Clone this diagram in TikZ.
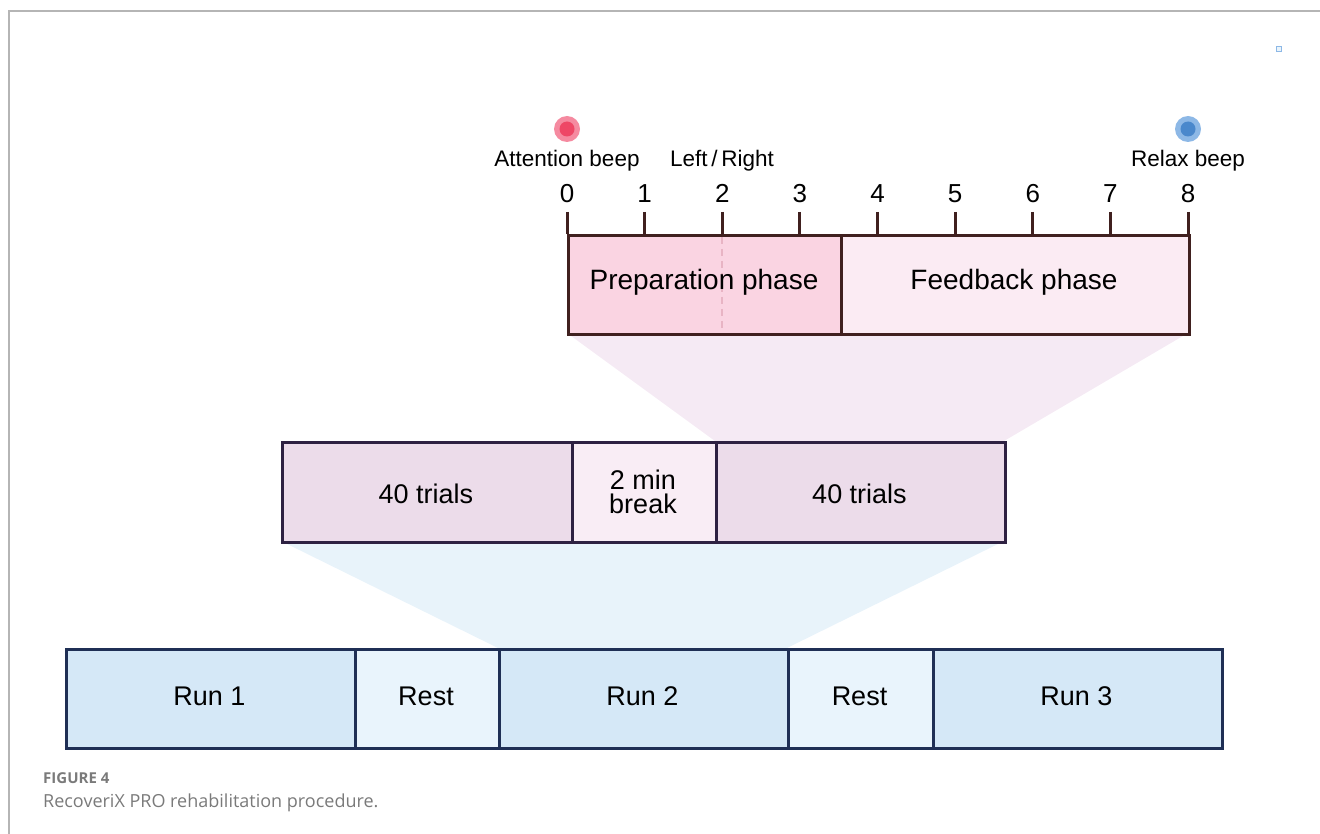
\documentclass[tikz,border=0pt]{standalone}
\usepackage{fontspec}
\setmainfont{Liberation Sans}
\newfontfamily\capfont{Open Sans}
\definecolor{frameg}{HTML}{B5B5B5}
\definecolor{tbord}{HTML}{40201F}
\definecolor{prepf}{HTML}{FAD4E2}
\definecolor{feedf}{HTML}{FBEBF3}
\definecolor{wedgep}{HTML}{F5EAF4}
\definecolor{mbord}{HTML}{2E2142}
\definecolor{trialf}{HTML}{ECDCEA}
\definecolor{breakf}{HTML}{F9EDF5}
\definecolor{wedgeb}{HTML}{E8F3FA}
\definecolor{bbord}{HTML}{1F2F55}
\definecolor{runf}{HTML}{D5E8F7}
\definecolor{restf}{HTML}{E9F4FC}
\definecolor{dashp}{HTML}{E8B4C4}
\definecolor{redin}{HTML}{EE4766}
\definecolor{redout}{HTML}{F58AA0}
\definecolor{bluein}{HTML}{4A88CC}
\definecolor{blueout}{HTML}{8DB8E6}
\definecolor{capg}{HTML}{7A7A7A}
\begin{document}
\begin{tikzpicture}[x=1pt,y=-1pt,
  boxtxt/.style={font=\fontsize{27}{29}\selectfont, align=center, anchor=base, inner sep=0pt},
  toptxt/.style={font=\fontsize{28}{30}\selectfont, anchor=base, inner sep=0pt},
  numtxt/.style={font=\fontsize{26}{28}\selectfont, anchor=base, inner sep=0pt},
  lbltxt/.style={font=\fontsize{22.5}{24}\selectfont, anchor=base, inner sep=0pt},
  boxshape/.style={line width=3pt, anchor=north west, inner sep=0pt},
  tbox/.style={boxshape, draw=tbord, minimum height=99pt},
  mbox/.style={boxshape, draw=mbord, minimum height=100pt},
  bbox/.style={boxshape, draw=bbord, minimum height=99pt},
  tickln/.style={draw=tbord, line width=3pt}]
\useasboundingbox (0,0) rectangle (1320,834);
% frame
\draw[frameg, line width=1.2pt] (9,834) -- (9,11) -- (1320,11);
% tiny icon
\draw[draw=blueout, fill=restf, line width=0.8pt] (1276,46) rectangle (1281,51);
% wedges
\fill[wedgep] (567,333) -- (1188,333) -- (1004,441) -- (715,441) -- cycle;
\fill[wedgeb] (281,541) -- (1004,541) -- (787,648) -- (498,648) -- cycle;
% top boxes
\node[tbox, fill=prepf, minimum width=273pt] (prep) at (567,234) {};
\node[tbox, fill=feedf, minimum width=348pt] (feed) at (840,234) {};
\draw[dashp, line width=2pt, dash pattern=on 7pt off 5pt] (722,237) -- (722,331);
\node[toptxt] (preptxt) at (704,290) {Preparation phase};
\node[toptxt] (feedtxt) at (1014,290) {Feedback phase};
% ticks and numbers
\foreach \i/\x in {0/567,1/644.6,2/722.3,3/799.9,4/877.5,5/955.1,6/1032.8,7/1110.4,8/1188} {
  \draw[tickln] (\x,212) -- (\x,234);
  \node[numtxt] (n\i) at (\x,203) {\i};
}
% beeps
\node[circle, fill=redout, minimum size=26pt, inner sep=0pt] (attc) at (567,129) {};
\node[circle, fill=redin, minimum size=15pt, inner sep=0pt] at (attc) {};
\node[circle, fill=blueout, minimum size=26pt, inner sep=0pt] (relc) at (1188,129) {};
\node[circle, fill=bluein, minimum size=15pt, inner sep=0pt] at (relc) {};
\node[lbltxt] (attl) at (567,167) {Attention beep};
\node[lbltxt] (lrl) at (722,167) {Left\,/\,Right};
\node[lbltxt] (rell) at (1188,167) {Relax beep};
% middle boxes
\node[mbox, fill=trialf, minimum width=290pt] (tr1) at (281,441) {};
\node[mbox, fill=breakf, minimum width=144pt] (brk) at (571,441) {};
\node[mbox, fill=trialf, minimum width=289pt] (tr2) at (715,441) {};
\node[boxtxt] (tr1t) at (426,503) {40 trials};
\node[font=\fontsize{27}{24}\selectfont, align=center, inner sep=0pt, anchor=center] (brkt) at (643,492) {2 min\\break};
\node[boxtxt] (tr2t) at (859.5,503) {40 trials};
% bottom boxes
\node[bbox, fill=runf, minimum width=289pt] (r1) at (65,648) {};
\node[bbox, fill=restf, minimum width=144pt] (rs1) at (354,648) {};
\node[bbox, fill=runf, minimum width=289pt] (r2) at (498,648) {};
\node[bbox, fill=restf, minimum width=145pt] (rs2) at (787,648) {};
\node[bbox, fill=runf, minimum width=289pt] (r3) at (932,648) {};
\node[boxtxt] (r1t) at (209.5,705) {Run 1};
\node[boxtxt] (rs1t) at (426,705) {Rest};
\node[boxtxt] (r2t) at (642.5,705) {Run 2};
\node[boxtxt] (rs2t) at (859.5,705) {Rest};
\node[boxtxt] (r3t) at (1076.5,705) {Run 3};
% caption
\node[anchor=base west, inner sep=0pt, text=capg, font=\capfont\bfseries\fontsize{15}{16}\selectfont] (figl) at (43,783) {FIGURE 4};
\node[anchor=base west, inner sep=0pt, text=capg, font=\capfont\fontsize{18}{20}\selectfont] (capt) at (43,807) {RecoveriX PRO rehabilitation procedure.};
\end{tikzpicture}
\end{document}
